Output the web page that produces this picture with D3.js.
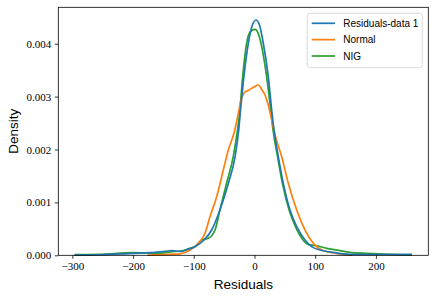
<!DOCTYPE html>
<html>
<head>
<meta charset="utf-8">
<script src="https://cdn.jsdelivr.net/npm/d3@7"></script>
<style>
  body { margin: 0; background: #fff; }
  svg { display: block; }
</style>
</head>
<body>
<div id="chart"></div>
<script>
// residuals-data 1 (kde)
var residualsX = [-295, -255, -200, -172, -147, -136, -123, -111, -98, -84, -70.5, -57, -43, -32, -26, -23, -17.5, -10.2, -4, 2.5, 8.2, 14.5, 22.7, 28.3, 32.1, 39.2, 47.4, 58.5, 69.5, 83.2, 94.2, 108, 130, 157, 207, 258];
var residualsY = [0.000005, 0.000010, 0.000038, 0.000050, 0.000076, 0.000090, 0.000072, 0.000110, 0.000163, 0.000280, 0.000478, 0.000856, 0.001361, 0.001864, 0.002369, 0.002747, 0.003376, 0.004008, 0.004335, 0.004448, 0.004354, 0.004008, 0.003376, 0.002747, 0.002369, 0.001864, 0.001361, 0.000856, 0.000541, 0.000289, 0.000163, 0.000100, 0.000053, 0.000019, 0.000015, 0.000017];

// normal fit
var normalX = [-175, -139, -123, -106, -92.6, -81.5, -73.3, -62.3, -51.4, -43.2, -33.5, -27.2, -22.2, -17.3, -9.1, -0.8, 6.3, 12.4, 17.3, 22.7, 33.8, 44.8, 55.7, 69.5, 83.2, 96.9, 113.3, 135.4, 149, 160];
var normalY = [0.000002, 0.000019, 0.000028, 0.000100, 0.000227, 0.000416, 0.000730, 0.001108, 0.001612, 0.001991, 0.002320, 0.002650, 0.002936, 0.003068, 0.003125, 0.003181, 0.003219, 0.003125, 0.003030, 0.002840, 0.002274, 0.001864, 0.001361, 0.000856, 0.000478, 0.000227, 0.000087, 0.000038, 0.000010, 0.000003];

// NIG fit
var nigX = [-295, -255, -200, -156, -131, -117, -106, -98, -87, -76, -65, -57, -46, -35, -28, -24, -19.5, -13, -6, 0.8, 6, 10.7, 20, 26.7, 30.5, 38, 46, 57, 67.5, 80, 88, 100, 119, 141, 157, 185, 223, 258];
var nigY = [0.000015, 0.000020, 0.000049, 0.000038, 0.000072, 0.000087, 0.000132, 0.000166, 0.000289, 0.000321, 0.000478, 0.000856, 0.001361, 0.001864, 0.002369, 0.002747, 0.003376, 0.004008, 0.004240, 0.004272, 0.004200, 0.004008, 0.003376, 0.002747, 0.002369, 0.001864, 0.001361, 0.000856, 0.000541, 0.000289, 0.000204, 0.000185, 0.000132, 0.000087, 0.000057, 0.000038, 0.000019, 0.000006];

var xTicks = [-300, -200, -100, 0, 100, 200];
var yTicks = [0, 0.001, 0.002, 0.003, 0.004];
var legendLabels = ["Residuals-data 1", "Normal", "NIG"];
var colors = ["#1f77b4", "#ff7f0e", "#2ca02c"];

var width = 436, height = 300;
var plotL = 58.3, plotR = 428.3, plotT = 7.3, plotB = 255.3;

var svg = d3.select("#chart").append("svg")
  .attr("width", width).attr("height", height);

svg.append("rect").attr("width", width).attr("height", height).attr("fill", "#fff");

var x = d3.scaleLinear().domain([-323.2, 286.3]).range([plotL, plotR]);
var y = d3.scaleLinear().domain([0, 0.004688]).range([plotB, plotT]);

var serif = "'Liberation Serif', 'DejaVu Serif', serif";
var sans = "'Liberation Sans', Arial, sans-serif";

// axes
var xAxis = svg.append("g")
  .attr("transform", "translate(0," + plotB + ")")
  .call(d3.axisBottom(x).tickValues(xTicks).tickSize(3.5).tickSizeOuter(0).tickPadding(3.5).tickFormat(d3.format("d")));
var yAxis = svg.append("g")
  .attr("transform", "translate(" + plotL + ",0)")
  .call(d3.axisLeft(y).tickValues(yTicks).tickSize(3.5).tickSizeOuter(0).tickPadding(3.5).tickFormat(d3.format(".3f")));

[xAxis, yAxis].forEach(function(a) {
  a.select(".domain").remove();
  a.selectAll("line").attr("stroke", "#000").attr("stroke-width", 0.8);
  a.selectAll("text").attr("fill", "#000").style("font-family", serif).style("font-size", "11px");
});

// curves
var line = d3.line()
  .x(function(d) { return x(d[0]); })
  .y(function(d) { return y(d[1]); })
  .curve(d3.curveMonotoneX);

var series = [
  d3.zip(residualsX, residualsY),
  d3.zip(normalX, normalY),
  d3.zip(nigX, nigY)
];

var plot = svg.append("g");
// draw order: NIG, Normal, Residuals on top
[2, 1, 0].forEach(function(i) {
  plot.append("path")
    .datum(series[i])
    .attr("d", line)
    .attr("fill", "none")
    .attr("stroke", colors[i])
    .attr("stroke-width", 1.7)
    .attr("stroke-linejoin", "round")
    .attr("stroke-linecap", "square");
});

// spines
svg.append("rect")
  .attr("x", plotL).attr("y", plotT)
  .attr("width", plotR - plotL).attr("height", plotB - plotT)
  .attr("fill", "none").attr("stroke", "#000").attr("stroke-width", 0.8);

// legend
var lg = svg.append("g");
lg.append("rect")
  .attr("x", 307.3).attr("y", 13.3).attr("width", 115).attr("height", 54.4)
  .attr("rx", 2.5)
  .attr("fill", "#fff").attr("fill-opacity", 0.8)
  .attr("stroke", "#d0d0d0").attr("stroke-width", 0.8);

legendLabels.forEach(function(name, i) {
  var ly = 23.3 + i * 16.35;
  lg.append("line")
    .attr("x1", 311.7).attr("x2", 335)
    .attr("y1", ly).attr("y2", ly)
    .attr("stroke", colors[i]).attr("stroke-width", 1.7);
  lg.append("text")
    .attr("x", 343.3).attr("y", ly).attr("dy", "0.35em")
    .style("font-family", sans).style("font-size", "10px")
    .text(name);
});

// axis labels
svg.append("text")
  .attr("x", (plotL + plotR) / 2).attr("y", 289)
  .attr("text-anchor", "middle")
  .style("font-family", sans).style("font-size", "13.5px")
  .text("Residuals");

svg.append("text")
  .attr("transform", "translate(18.3," + ((plotT + plotB) / 2) + ") rotate(-90)")
  .attr("text-anchor", "middle")
  .style("font-family", sans).style("font-size", "13.5px")
  .text("Density");
</script>
</body>
</html>
